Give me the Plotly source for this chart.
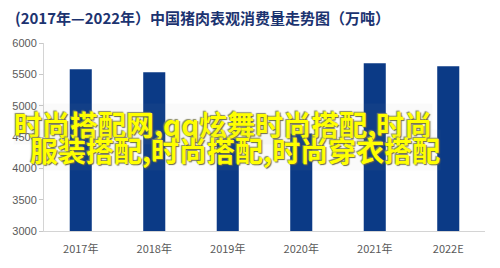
import plotly.graph_objects as go

# 中国猪肉表观消费量（万吨）
years = ["2017年", "2018年", "2019年", "2020年", "2021年", "2022E"]
consumption = [5580, 5535, 4475, 4555, 5675, 5630]
y_ticks = [3000, 3500, 4000, 4500, 5000, 5500, 6000]

title_text = "(2017年—2022年）中国猪肉表观消费量走势图（万吨）"
overlay_lines = [
    "时尚搭配网,qq炫舞时尚搭配,时尚",
    "服装搭配,时尚搭配,时尚穿衣搭配",
]

fig = go.Figure(
    go.Bar(
        x=years,
        y=consumption,
        marker=dict(color="#0b3a86", line=dict(width=0)),
        hoverinfo="x+y",
    )
)

fig.update_layout(
    width=500,
    height=268,
    margin=dict(l=44, r=15, t=43, b=30),
    paper_bgcolor="white",
    plot_bgcolor="white",
    bargap=0.7,
    showlegend=False,
    font=dict(family="Liberation Sans, Arial, sans-serif", size=11, color="#595959"),
)

fig.update_xaxes(
    showgrid=False,
    showline=True,
    linecolor="#d4d4d4",
    linewidth=1,
    ticks="",
    tickfont=dict(size=11, color="#595959", family="Noto Sans CJK SC, sans-serif"),
    ticklabelstandoff=8,
)

fig.update_yaxes(
    range=[3000, 6000],
    tickvals=y_ticks,
    showgrid=False,
    zeroline=False,
    showline=True,
    linecolor="#d4d4d4",
    linewidth=1,
    ticks="outside",
    ticklen=4,
    tickcolor="#c8c8c8",
    tickfont=dict(size=11, color="#595959"),
)

# 标题
fig.add_annotation(
    text=title_text,
    xref="paper", yref="paper",
    x=-0.07, y=1.0, yshift=26,
    xanchor="left", yanchor="middle",
    showarrow=False,
    font=dict(family="Noto Sans CJK SC, sans-serif", size=15, color="#1c3370", weight="bold"),
)

# 黄色水印文字
line_pos = [(0.406, 0.569), (0.433, 0.431)]
for line, (px, py) in zip(overlay_lines, line_pos):
    fig.add_annotation(
        text=line,
        xref="paper", yref="paper",
        x=px, y=py,
        xanchor="center", yanchor="middle",
        showarrow=False,
        bgcolor="rgba(150,150,150,0.05)",
        borderpad=0,
        font=dict(
            family="Noto Sans CJK SC, sans-serif",
            size=28,
            color="#ffff00",
            weight="bold",
            shadow="1px 1px 1px #6a6a40, -1px -1px 1px #8a8a60",
        ),
    )

fig.write_html("out.html")
